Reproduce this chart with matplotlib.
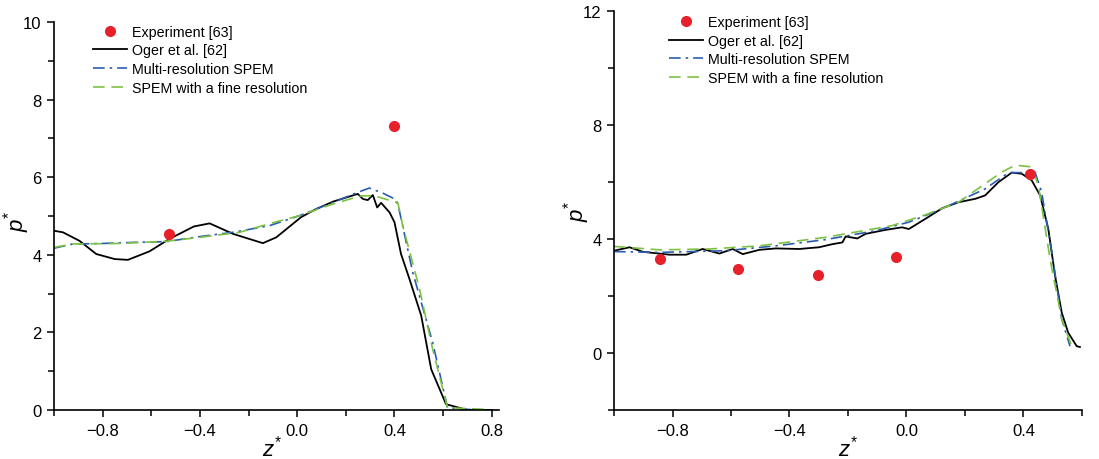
# Pressure profiles p* vs z*: two panels, Experiment / Oger / multi-resolution / fine SPEM
import matplotlib.pyplot as plt
from matplotlib.ticker import MultipleLocator, FuncFormatter

plt.rcParams['font.family'] = ['Liberation Sans', 'DejaVu Sans']
plt.rcParams['mathtext.fontset'] = 'custom'
plt.rcParams['mathtext.rm'] = 'Liberation Sans'
plt.rcParams['mathtext.it'] = 'Liberation Sans:italic'

# ---- left panel ----
exp_l_z = [-0.529, 0.397]
exp_l_p = [4.54, 7.31]

oger_l_z = [-1.0, -0.963, -0.895, -0.826, -0.75, -0.696, -0.607, -0.525, -0.425, -0.36,
            -0.264, -0.141, -0.086, 0.016, 0.078, 0.147, 0.249, 0.27, 0.29, 0.311,
            0.329, 0.345, 0.38, 0.40, 0.427, 0.462, 0.51, 0.551, 0.612, 0.70, 0.80]
oger_l_p = [4.62, 4.58, 4.36, 4.02, 3.89, 3.87, 4.09, 4.41, 4.73, 4.81,
            4.54, 4.30, 4.45, 4.97, 5.18, 5.37, 5.57, 5.44, 5.41, 5.54,
            5.22, 5.34, 5.09, 4.84, 4.02, 3.37, 2.43, 1.05, 0.15, 0.0, 0.0]

multi_l_z = [-1.0, -0.922, -0.812, -0.675, -0.538, -0.4, -0.264, -0.114, 0.01, 0.147,
             0.249, 0.297, 0.352, 0.407, 0.42, 0.475, 0.557, 0.618, 0.694, 0.827]
multi_l_p = [4.17, 4.28, 4.29, 4.32, 4.34, 4.47, 4.58, 4.75, 5.01, 5.35,
             5.61, 5.72, 5.59, 5.42, 5.14, 3.55, 1.74, 0.06, 0.02, -0.04]

fine_l_z = [-1.0, -0.922, -0.744, -0.538, -0.4, -0.237, -0.086, 0.01, 0.147, 0.263,
            0.318, 0.414, 0.434, 0.503, 0.557, 0.618, 0.763, 0.825]
fine_l_p = [4.19, 4.28, 4.29, 4.35, 4.45, 4.58, 4.85, 5.01, 5.31, 5.52,
            5.52, 5.34, 4.75, 3.12, 1.57, 0.06, 0.02, -0.03]

# ---- right panel ----
exp_r_z = [-0.844, -0.577, -0.302, -0.0375, 0.423]
exp_r_p = [3.29, 2.96, 2.75, 3.38, 6.27]

oger_r_z = [-1.0, -0.947, -0.901, -0.81, -0.753, -0.697, -0.64, -0.594, -0.56, -0.503,
            -0.447, -0.367, -0.299, -0.253, -0.219, -0.208, -0.168, -0.14, -0.072, -0.015,
            0.008, 0.065, 0.122, 0.178, 0.235, 0.269, 0.315, 0.36, 0.394, 0.428,
            0.457, 0.485, 0.508, 0.531, 0.553, 0.582, 0.593]
oger_r_p = [3.59, 3.71, 3.55, 3.45, 3.45, 3.65, 3.49, 3.65, 3.47, 3.62,
            3.67, 3.65, 3.71, 3.82, 3.88, 4.09, 4.02, 4.18, 4.32, 4.41,
            4.35, 4.71, 5.08, 5.29, 5.41, 5.53, 6.0, 6.33, 6.29, 6.06,
            5.53, 4.35, 2.71, 1.41, 0.71, 0.24, 0.21]

multi_r_z = [-1.0, -0.844, -0.617, -0.447, -0.276, -0.106, 0.008, 0.122, 0.269, 0.349,
             0.44, 0.462, 0.497, 0.531, 0.559]
multi_r_p = [3.56, 3.53, 3.59, 3.76, 3.98, 4.29, 4.59, 5.06, 5.76, 6.33,
             6.33, 5.65, 3.53, 1.18, 0.24]

fine_r_z = [-1.0, -0.844, -0.674, -0.503, -0.276, -0.049, 0.065, 0.178, 0.326, 0.372,
            0.428, 0.451, 0.491, 0.531, 0.565]
fine_r_p = [3.74, 3.62, 3.65, 3.76, 4.06, 4.47, 4.85, 5.29, 6.35, 6.59,
            6.53, 5.88, 3.29, 1.18, 0.24]

RED = '#e8202a'
BLUE = '#2a5db0'
GREEN = '#7dc142'

fig = plt.figure(figsize=(10.99, 4.60), dpi=100)
ax1 = fig.add_axes([0.0491, 0.1065, 0.405, 0.8435])
ax2 = fig.add_axes([0.5587, 0.1065, 0.4258, 0.8674])

fmt = FuncFormatter(lambda v, pos: f'{v:.1f}'.replace('-', '\u2212'))


def draw(ax, ez, ep, oz, op, mz, mp, fz, fp):
    ax.plot(ez, ep, 'o', color=RED, ms=7, label='Experiment [63]', zorder=5)
    ax.plot(oz, op, '-', color='black', lw=1.3, label='Oger et al. [62]')
    ax.plot(mz, mp, color=BLUE, lw=1.2, dashes=(7, 3, 1.5, 3), label='Multi-resolution SPEM')
    ax.plot(fz, fp, color=GREEN, lw=1.2, dashes=(7, 4), label='SPEM with a fine resolution')
    for s in ('top', 'right'):
        ax.spines[s].set_visible(False)
    ax.spines['left'].set_linewidth(1.2)
    ax.spines['bottom'].set_linewidth(1.2)
    ax.tick_params(which='both', direction='out', width=1.1, labelsize=12, pad=4)
    ax.tick_params(which='major', length=5)
    ax.tick_params(which='minor', length=4)
    ax.xaxis.set_major_locator(MultipleLocator(0.4))
    ax.xaxis.set_minor_locator(MultipleLocator(0.2))
    ax.xaxis.set_major_formatter(fmt)
    ax.set_xlabel('$z^{*}$', fontsize=16)
    ax.set_ylabel('$p^{*}$', fontsize=16)


draw(ax1, exp_l_z, exp_l_p, oger_l_z, oger_l_p, multi_l_z, multi_l_p, fine_l_z, fine_l_p)
ax1.set_xlim(-1.0, 0.83)
ax1.set_ylim(0, 10)
ax1.yaxis.set_major_locator(MultipleLocator(2))
ax1.yaxis.set_minor_locator(MultipleLocator(1))
ax1.xaxis.set_label_coords(0.49, -0.064)
ax1.yaxis.set_label_coords(-0.05, 0.49)
ax1.legend(loc='upper left', bbox_to_anchor=(0.088, 0.993), frameon=False, fontsize=10.3,
           borderpad=0, borderaxespad=0, handlelength=2.4, handletextpad=0.3,
           labelspacing=0.33, numpoints=1)

draw(ax2, exp_r_z, exp_r_p, oger_r_z, oger_r_p, multi_r_z, multi_r_p, fine_r_z, fine_r_p)
ax2.set_xlim(-1.0, 0.6)
ax2.set_ylim(-2, 12)
ax2.yaxis.set_major_locator(MultipleLocator(4))
ax2.yaxis.set_minor_locator(MultipleLocator(2))
ax2.xaxis.set_label_coords(0.5, -0.062)
ax2.yaxis.set_label_coords(-0.048, 0.5)
ax2.legend(loc='upper left', bbox_to_anchor=(0.1175, 0.99), frameon=False, fontsize=10.3,
           borderpad=0, borderaxespad=0, handlelength=2.4, handletextpad=0.3,
           labelspacing=0.33, numpoints=1)

fig.savefig('out.png', dpi=100)
